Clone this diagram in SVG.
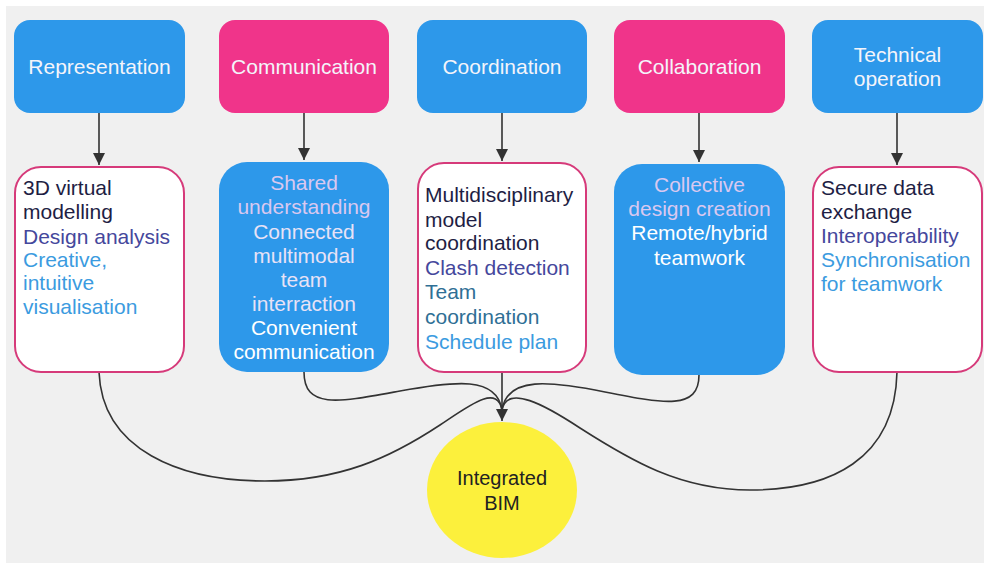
<svg xmlns="http://www.w3.org/2000/svg" width="987" height="565" viewBox="0 0 987 565">
<style>
.t{font-family:"Liberation Sans",Arial,sans-serif;font-size:21px}
.hd{fill:#f4f4fa;text-anchor:middle}
.blue{fill:#2d98ea}
.pink{fill:#f0348a}
.wbox{fill:#ffffff;stroke:#d63a7a;stroke-width:2}
.c1{fill:#1e1e44}
.c2{fill:#45479c}
.c3{fill:#3b9be0}
.c4{fill:#2f6f95}
.l1{fill:#d9c8f0}
.l2{fill:#e8e2f6}
.l3{fill:#ffffff}
.edge{fill:none;stroke:#333;stroke-width:1.6}
</style>
<defs>
<marker id="ah" markerWidth="12" markerHeight="12" refX="12" refY="6" orient="auto" markerUnits="userSpaceOnUse"><path d="M0,0 L12,6 L0,12 z" fill="#333"/></marker>
</defs>
<rect x="0" y="0" width="987" height="565" fill="#ffffff"/>
<rect x="6" y="6" width="978" height="557" fill="#f0f0f0"/>

<g id="connectors">
<path class="edge" d="M99,113 L99,165" marker-end="url(#ah)"/>
<path class="edge" d="M304,113 L304,160" marker-end="url(#ah)"/>
<path class="edge" d="M502,113 L502,161" marker-end="url(#ah)"/>
<path class="edge" d="M699,113 L699,162" marker-end="url(#ah)"/>
<path class="edge" d="M897,113 L897,165" marker-end="url(#ah)"/>
<path class="edge" d="M304,372 C304,410 340,402 400,391 C455,381 497,376 502,410"/>
<path class="edge" d="M699,375 C699,410 665,404 605,392 C550,381 507,376 502,410"/>
<path class="edge" d="M99,372 C102,450 180,481 265,481 C340,481 390,458 440,425 C470,405 497,384 502,410"/>
<path class="edge" d="M897,372 C895,460 830,490 750,490 C680,490 630,460 580,428 C545,405 507,384 502,410"/>
<path class="edge" d="M502,372 L502,421" marker-end="url(#ah)"/>
</g>

<g id="representation"><rect class="blue" x="14" y="20" width="171" height="93" rx="16"/><text class="t hd" x="99.5" y="74">Representation</text></g>
<g id="communication"><rect class="pink" x="219" y="20" width="170" height="93" rx="16"/><text class="t hd" x="304" y="74">Communication</text></g>
<g id="coordination"><rect class="blue" x="417" y="20" width="170" height="93" rx="16"/><text class="t hd" x="502" y="74">Coordination</text></g>
<g id="collaboration"><rect class="pink" x="614" y="20" width="171" height="93" rx="16"/><text class="t hd" x="699.5" y="74">Collaboration</text></g>
<g id="technical"><rect class="blue" x="812" y="20" width="171" height="93" rx="16"/><text class="t hd" x="897.5" y="62">Technical</text><text class="t hd" x="897.5" y="86">operation</text></g>

<g id="rep-details"><rect class="wbox" x="15" y="167" width="169" height="205" rx="26"/>
<text class="t" x="23"><tspan class="c1" x="23" y="195">3D virtual</tspan><tspan class="c1" x="23" y="219">modelling</tspan><tspan class="c2" x="23" y="244">Design analysis</tspan><tspan class="c3" x="23" y="267">Creative,</tspan><tspan class="c3" x="23" y="290">intuitive</tspan><tspan class="c3" x="23" y="314">visualisation</tspan></text></g>

<g id="comm-details"><rect class="blue" x="219" y="162" width="170" height="210" rx="28"/>
<text class="t" text-anchor="middle"><tspan class="l1" x="304" y="190">Shared</tspan><tspan class="l1" x="304" y="214">understanding</tspan><tspan class="l2" x="304" y="239">Connected</tspan><tspan class="l2" x="304" y="263">multimodal</tspan><tspan class="l2" x="304" y="287">team</tspan><tspan class="l2" x="304" y="311">interraction</tspan><tspan class="l3" x="304" y="335">Convenient</tspan><tspan class="l3" x="304" y="359">communication</tspan></text></g>

<g id="coord-details"><rect class="wbox" x="418" y="163" width="168" height="209" rx="26"/>
<text class="t"><tspan class="c1" x="425" y="202">Multidisciplinary</tspan><tspan class="c1" x="425" y="227">model</tspan><tspan class="c1" x="425" y="250">coordination</tspan><tspan class="c2" x="425" y="275">Clash detection</tspan><tspan class="c4" x="425" y="299">Team</tspan><tspan class="c4" x="425" y="324">coordination</tspan><tspan class="c3" x="425" y="349">Schedule plan</tspan></text></g>

<g id="collab-details"><rect class="blue" x="614" y="164" width="171" height="211" rx="28"/>
<text class="t" text-anchor="middle"><tspan class="l1" x="699.5" y="192">Collective</tspan><tspan class="l1" x="699.5" y="216">design creation</tspan><tspan class="l3" x="699.5" y="240">Remote/hybrid</tspan><tspan class="l3" x="699.5" y="265">teamwork</tspan></text></g>

<g id="tech-details"><rect class="wbox" x="813" y="167" width="169" height="205" rx="26"/>
<text class="t"><tspan class="c1" x="821" y="195">Secure data</tspan><tspan class="c1" x="821" y="219">exchange</tspan><tspan class="c2" x="821" y="243">Interoperability</tspan><tspan class="c3" x="821" y="267">Synchronisation</tspan><tspan class="c3" x="821" y="291">for teamwork</tspan></text></g>

<g id="integrated-bim"><ellipse cx="502" cy="490" rx="75" ry="68" fill="#fcf03c"/>
<text class="t" style="font-size:20px" fill="#222" text-anchor="middle"><tspan x="502" y="485">Integrated</tspan><tspan x="502" y="510">BIM</tspan></text></g>
</svg>
